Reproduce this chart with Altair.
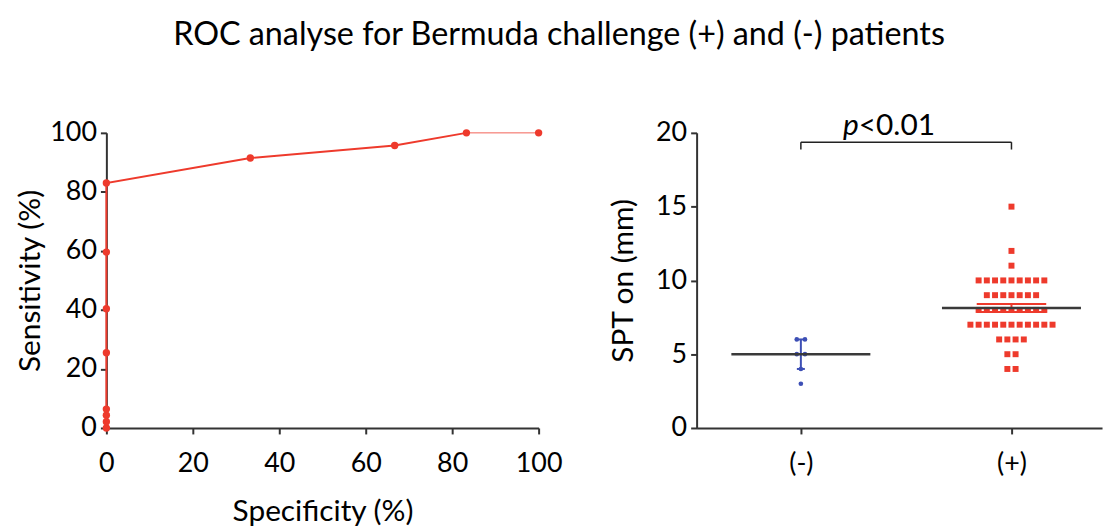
import altair as alt
import pandas as pd

# ---- ROC data (left panel) ----
roc_spec = [0, 0, 0, 0, 0, 0, 0, 0, 33.3, 66.7, 83.3, 100]
roc_sens = [0, 2.1, 4.3, 6.4, 25.5, 40.4, 59.6, 83.0, 91.5, 95.7, 100, 100]

# ---- SPT data (right panel) ----
minus_vals = [6, 6, 5, 5, 4, 3]
plus_vals = [15, 12, 11,
             10, 10, 10, 10, 10, 10, 10, 10, 10,
             9, 9, 9, 9, 9, 9, 9,
             8, 8, 8, 8, 8, 8, 8, 8, 8,
             7, 7, 7, 7, 7, 7, 7, 7, 7, 7, 7,
             6, 6, 6, 6,
             5, 5,
             4, 4]
group_pos = [1, 2]
group_labels = ["(-)", "(+)"]
group_means = [5.0, 8.13]
err_low = [4.0, 7.86]
err_high = [6.0, 8.40]
bracket_y = 19.37
bracket_tick_y = 18.87

FONT = "Lato"
RED = "#ee3a2c"
BLUE = "#3d4fb5"
AX = "#333333"
LBL = 27
TTL = 30

# ---------- left panel ----------
roc_df = pd.DataFrame({"spec": roc_spec, "sens": roc_sens})
roc_base = alt.Chart(roc_df).encode(
    x=alt.X("spec:Q", scale=alt.Scale(domain=[0, 100], nice=False),
            axis=alt.Axis(values=[0, 20, 40, 60, 80, 100], title="Specificity (%)")),
    y=alt.Y("sens:Q", scale=alt.Scale(domain=[0, 100], nice=False),
            axis=alt.Axis(values=[0, 20, 40, 60, 80, 100], title="Sensitivity (%)",
                          titlePadding=4)),
)
roc_line = roc_base.mark_line(color=RED, strokeWidth=2, clip=False).transform_filter(
    alt.datum.spec <= 90)
roc_tail = roc_base.mark_line(color=RED, strokeWidth=1, opacity=0.8, clip=False).transform_filter(
    alt.datum.sens >= 100)
roc_pts = roc_base.mark_circle(color=RED, size=55, opacity=1, clip=False)
left = alt.layer(roc_line, roc_tail, roc_pts).properties(width=435, height=297)

# ---------- right panel ----------
SP = 0.039  # dot spacing in x data units


def swarm(vals, center):
    rows = []
    counts = {}
    for v in vals:
        counts[v] = counts.get(v, 0) + 1
    seen = {}
    for v in vals:
        n = counts[v]
        i = seen.get(v, 0)
        seen[v] = i + 1
        rows.append({"x": center + (i - (n - 1) / 2) * SP, "y": v})
    return rows


minus_df = pd.DataFrame(swarm(minus_vals, group_pos[0]))
plus_df = pd.DataFrame(swarm(plus_vals, group_pos[1]))

xs = alt.Scale(domain=[0.505, 2.43], nice=False, zero=False)
ys = alt.Scale(domain=[0, 20], nice=False)
xaxis = alt.Axis(values=group_pos, title=None, grid=False,
                 labelExpr="datum.value == 1 ? '(-)' : '(+)'")
yaxis = alt.Axis(values=[0, 5, 10, 15, 20], title="SPT on (mm)", titlePadding=17)

stats_df = pd.DataFrame({
    "pos": group_pos, "label": group_labels, "mean": group_means,
    "lo": err_low, "hi": err_high,
    "mx1": [p - 0.33 for p in group_pos], "mx2": [p + 0.33 for p in group_pos],
    "cx1": [group_pos[0] - 0.019, group_pos[1] - 0.165],
    "cx2": [group_pos[0] + 0.019, group_pos[1] + 0.165],
    "col": [BLUE, RED],
})

plus_pts = alt.Chart(plus_df).mark_square(color=RED, size=36, opacity=1).encode(
    x=alt.X("x:Q", scale=xs, axis=xaxis), y=alt.Y("y:Q", scale=ys, axis=yaxis))
minus_pts = alt.Chart(minus_df).mark_circle(color=BLUE, size=22, opacity=1).encode(
    x=alt.X("x:Q", scale=xs), y=alt.Y("y:Q", scale=ys))

sb = alt.Chart(stats_df)
err_v = sb.mark_rule(strokeWidth=2).encode(
    x=alt.X("pos:Q", scale=xs), y=alt.Y("lo:Q", scale=ys), y2="hi:Q",
    color=alt.Color("col:N", scale=None))
cap_hi = sb.mark_rule(strokeWidth=2).encode(
    x=alt.X("cx1:Q", scale=xs), x2="cx2:Q", y=alt.Y("hi:Q", scale=ys),
    color=alt.Color("col:N", scale=None))
cap_lo = sb.mark_rule(strokeWidth=2).encode(
    x=alt.X("cx1:Q", scale=xs), x2="cx2:Q", y=alt.Y("lo:Q", scale=ys),
    color=alt.Color("col:N", scale=None))
mean_line = sb.mark_rule(strokeWidth=2.5, color="#3a3a3a").encode(
    x=alt.X("mx1:Q", scale=xs), x2="mx2:Q", y=alt.Y("mean:Q", scale=ys))

br_df = pd.DataFrame({"x1": [group_pos[0]], "x2": [group_pos[1]],
                      "y": [bracket_y], "yt": [bracket_tick_y]})
bb = alt.Chart(br_df)
br_h = bb.mark_rule(color="#222222", strokeWidth=1.5).encode(
    x=alt.X("x1:Q", scale=xs), x2="x2:Q", y=alt.Y("y:Q", scale=ys))
br_l = bb.mark_rule(color="#222222", strokeWidth=1.5).encode(
    x=alt.X("x1:Q", scale=xs), y=alt.Y("yt:Q", scale=ys), y2="y:Q")
br_r = bb.mark_rule(color="#222222", strokeWidth=1.5).encode(
    x=alt.X("x2:Q", scale=xs), y=alt.Y("yt:Q", scale=ys), y2="y:Q")

txt_df = pd.DataFrame({"x": [1.275], "y": [19.87]})
tp = alt.Chart(txt_df).mark_text(text="p", fontStyle="italic", fontSize=30, font=FONT,
                                 align="right", baseline="alphabetic", color="black").encode(
    x=alt.X("x:Q", scale=xs), y=alt.Y("y:Q", scale=ys))
tv = alt.Chart(txt_df).mark_text(text="<0.01", fontSize=30, font=FONT,
                                 align="left", baseline="alphabetic", color="black").encode(
    x=alt.X("x:Q", scale=xs), y=alt.Y("y:Q", scale=ys))

right = alt.layer(plus_pts, minus_pts, err_v, cap_hi, cap_lo, mean_line,
                  br_h, br_l, br_r, tp, tv).properties(width=408, height=297)

chart = alt.hconcat(left, right, spacing=46).properties(
    background="white",
    padding={"left": 8, "top": 9, "right": 5, "bottom": 0},
    title=alt.TitleParams("ROC analyse for Bermuda challenge (+) and (-) patients",
                          fontSize=32.5, fontWeight="normal", font=FONT,
                          anchor="middle", offset=60, color="black")
).configure_view(stroke=None).configure_axis(
    grid=False, domainColor=AX, domainWidth=2, tickColor=AX, tickWidth=2, tickSize=6,
    labelFont=FONT, labelFontSize=LBL, labelColor="black", labelFlush=False,
    labelOverlap=False,
    titleFont=FONT, titleFontSize=TTL, titleFontWeight="normal", titleColor="black",
).configure_axisX(labelPadding=17, titlePadding=20).configure_axisY(labelPadding=4)

chart.save("out.html", embed_options={"renderer": "svg", "actions": False})
